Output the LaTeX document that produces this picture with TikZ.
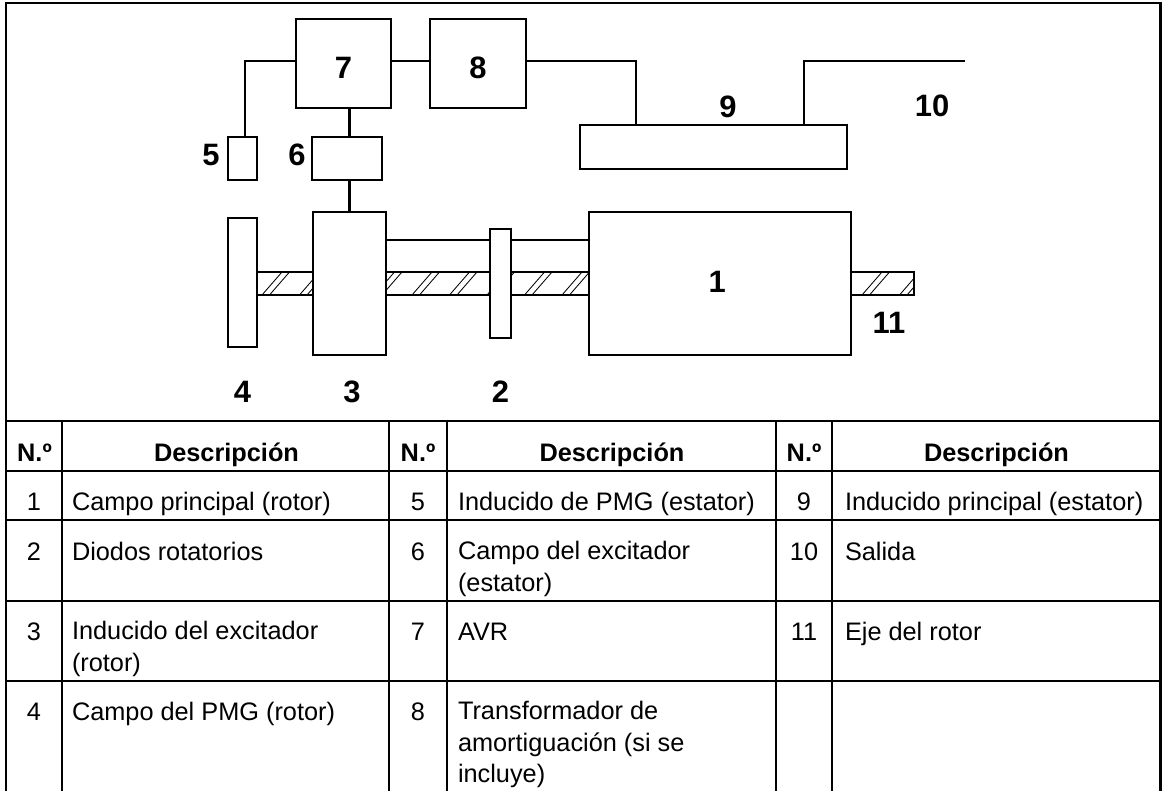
\documentclass[tikz,border=0pt]{standalone}
\usepackage{fontspec}
\setmainfont{Liberation Sans}
\usetikzlibrary{positioning}

\begin{document}
\begin{tikzpicture}[
    x=0.025cm, y=-0.025cm,
    block/.style={rectangle, draw, fill=white, line width=1.6pt, outer sep=0pt, inner sep=0pt},
    wire/.style={line width=1.6pt},
    hatchline/.style={line width=0.6pt},
    rule/.style={line width=2.1pt},
    numlabel/.style={font=\fontsize{22}{25}\selectfont\bfseries, inner sep=0pt, outer sep=0pt},
    cell/.style={font=\fontsize{18}{22.2}\selectfont, inner sep=0pt, outer sep=0pt, align=left, anchor=base west},
    cellnum/.style={font=\fontsize{18}{22.2}\selectfont, inner sep=0pt, outer sep=0pt, anchor=base},
    cellhead/.style={font=\fontsize{18}{22.2}\selectfont\bfseries, inner sep=0pt, outer sep=0pt, anchor=base}
]
\useasboundingbox (0,0) rectangle (1162,791);
\coordinate (bus) at (0,61);
\coordinate (upper) at (0,240);
\coordinate (tap1) at (636,125);
\coordinate (tap2) at (804,125);
\coordinate (out10) at (965,61);

\node[block, minimum width=16.425cm, minimum height=0.575cm] (shaft) at (585.5,283.5) {};
\begin{scope}
\clip (shaft.south west) rectangle (shaft.north east);
\foreach \k in {0,...,17} {
  \draw[hatchline] ({262+37.5*\k},295) -- ++(20,-23);
  \draw[hatchline] ({269.5+37.5*\k},295) -- ++(20,-23);
}
\end{scope}

\node[block, minimum width=2.375cm, minimum height=2.225cm] (box7) at (343.5,63.5) {};
\node[block, minimum width=2.4cm, minimum height=2.225cm, right=0.975cm of box7] (box8) {};
\node[block, minimum width=1.75cm, minimum height=1.075cm, below=0.725cm of box7, xshift=0.0875cm] (box6) {};
\node[block, minimum width=0.725cm, minimum height=1.075cm, left=1.375cm of box6] (box5) {};
\node[block, minimum width=1.825cm, minimum height=3.575cm, below=0.8cm of box6, xshift=0.0625cm] (box3) {};
\node[block, minimum width=0.725cm, minimum height=3.225cm, left=1.4cm of box3, yshift=0.025cm] (box4) {};
\node[block, minimum width=0.525cm, minimum height=2.725cm, right=2.6cm of box3] (box2) {};
\node[block, minimum width=6.55cm, minimum height=3.575cm, right=1.95cm of box2] (box1) {};
\node[block, minimum width=6.675cm, minimum height=1.1cm] (box9) at (713.5,147) {};

\node[numlabel, yshift=-0.1cm] (num7) at (box7.center) {7};
\node[numlabel, yshift=-0.1cm] (num8) at (box8.center) {8};
\node[numlabel, left=0.2125cm of box5, yshift=0.0875cm] (num5) {5};
\node[numlabel, left=0.1625cm of box6, yshift=0.0875cm] (num6) {6};
\node[numlabel, below=0.85cm of box4] (num4) {4};
\node[numlabel, below=0.65cm of box3, xshift=0.0625cm] (num3) {3};
\node[numlabel, below=1.075cm of box2] (num2) {2};
\node[numlabel, xshift=-0.075cm, yshift=0.05cm] (num1) at (box1.center) {1};
\node[numlabel, above=0.175cm of box9, xshift=0.3625cm] (num9) {9};
\node[numlabel] (num10) at (932,106) {10};
\node[numlabel] (num11) at (889,323) {11};

\draw[wire] (box5.north -| 245,0) -- (bus -| 245,0) -- (bus -| box7.west);
\draw[wire] (bus -| box7.east) -- (bus -| box8.west);
\draw[wire] (bus -| box8.east) -| (box9.north -| tap1);
\draw[wire] (box9.north -| tap2) |- (out10);
\draw[wire] (box7.south -| box3.north) -- (box6.north -| box3.north);
\draw[wire] (box6.south -| box3.north) -- (box3.north);
\draw[wire] (upper -| box3.east) -- (upper -| box2.west);
\draw[wire] (upper -| box2.east) -- (upper -| box1.west);

\draw[rule] (6,791) -- (6,3) -- (1160.5,3) -- (1160.5,791);
\foreach \ypos in {421,471,520,601,681}
  \draw[rule] (6,\ypos) -- (1160.5,\ypos);
\foreach \xpos in {62,389,447,776,832}
  \draw[rule] (\xpos,421) -- (\xpos,791);

\foreach \col/\xn/\xd in {a/34.5/226.5, b/418/612, c/804/996.5} {
  \node[cellhead] (headn\col) at (\xn,461) {N.º};
  \node[cellhead] (headd\col) at (\xd,461) {Descripción};
}

\foreach \n/\xn/\xd/\ypos/\ylast/\txt in {
    1/34/72/510/510/{Campo principal (rotor)},
    2/34/72/560/560/{Diodos rotatorios},
    3/34/72/640/671.2/{Inducido del excitador\\(rotor)},
    4/34/72/720/720/{Campo del PMG (rotor)},
    5/418/458/510/510/{Inducido de PMG (estator)},
    6/418/458/560/591.2/{Campo del excitador\\(estator)},
    7/418/458/640/640/{AVR},
    8/418/458/720/782.4/{Transformador de\\amortiguación (si se\\incluye)},
    9/804/845/510/510/{Inducido principal (estator)},
    10/804/845/560/560/{Salida},
    11/804/845/640/640/{Eje del rotor}} {
  \node[cellnum] (cn\n) at (\xn,\ypos) {\n};
  \node[cell] (cd\n) at (\xd,\ylast) {\txt};
}
\end{tikzpicture}
\end{document}
